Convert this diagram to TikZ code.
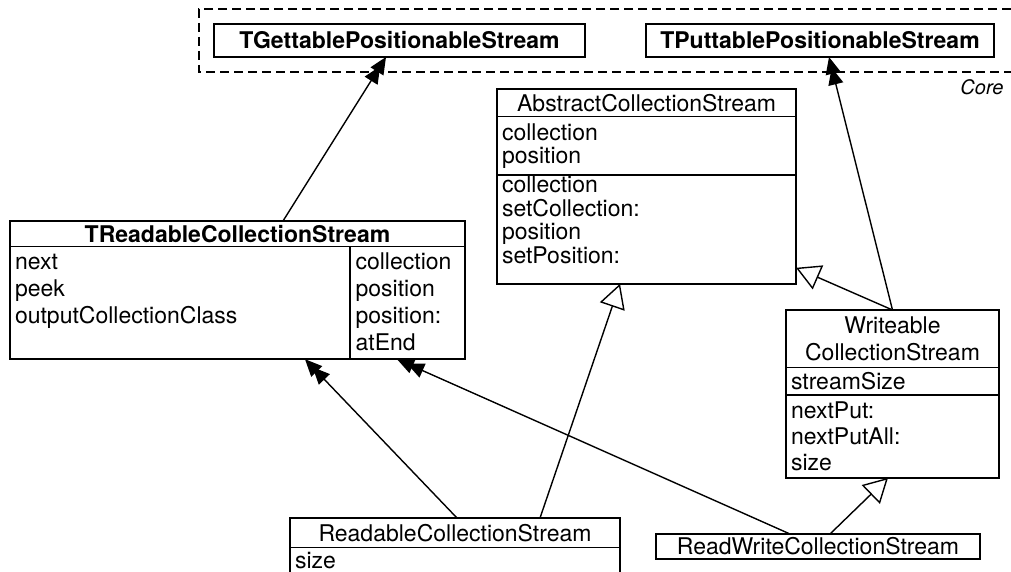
\documentclass[tikz,border=0pt]{standalone}
\usepackage{fontspec}
\setmainfont{TeX Gyre Heros}
\usepackage{tikz}
\usetikzlibrary{shapes.multipart,arrows.meta,positioning}

% one compartment of a class: [inner pos]{height}{width}{rows}
\newcommand{\rowsbox}[4][c]{\parbox[c][#2][#1]{#3}{\raggedright #4}}
% class name row: {height}{width}{name}
\newcommand{\headbox}[3]{\parbox[c][#1][c]{#2}{\centering #3}}

\begin{document}
\begin{tikzpicture}[
    x=1pt, y=1pt,
    umlfont/.style={font=\fontsize{23}{23.5}\selectfont},
    classbox/.style={rectangle split, draw, line width=1.6pt, inner xsep=5pt, inner ysep=0pt, outer sep=0pt, anchor=north west, umlfont},
    plainbox/.style={rectangle, draw, line width=1.6pt, inner sep=0pt, outer sep=0pt, anchor=north west, umlfont},
    uses/.style={-{Triangle[length=17pt,width=15pt,sep=-6pt]Triangle[length=17pt,width=15pt]}, line width=1.4pt},
    inherits/.style={-{Triangle[open,fill=white,length=24pt,width=26pt]}, line width=1.4pt}
]
\useasboundingbox (0,0) rectangle (1011,-572);

% Core package
\draw[line width=1.4pt, dash pattern=on 9pt off 5pt] (1011,-9) -- (199,-9) -- (199,-72) -- (1011,-72);
\node[anchor=east, font=\fontsize{20}{22}\selectfont\itshape] (core) at (1007,-87) {Core};
\node[plainbox, minimum width=371pt, minimum height=33pt] (tget) at (214,-24) {\textbf{TGettablePositionableStream}};
\node[plainbox, minimum width=348pt, minimum height=33pt] (tput) at (646,-24) {\textbf{TPuttablePositionableStream}};

% Classes
\node[classbox, rectangle split parts=3] (abs) at (497,-89) {%
  \headbox{26pt}{289pt}{AbstractCollectionStream}%
  \nodepart{two}\rowsbox{57pt}{289pt}{collection\\position}%
  \nodepart{three}\rowsbox[t]{107pt}{289pt}{collection\\setCollection:\\position\\setPosition:}%
};
\node[classbox, rectangle split parts=2] (trc) at (10,-221) {%
  \headbox{24pt}{445pt}{\textbf{TReadableCollectionStream}}%
  \nodepart{two}\rowsbox[t]{111pt}{334pt}{\rule{0pt}{22pt}next\\[3.5pt]peek\\[3.5pt]outputCollectionClass}%
  \vrule width 1.6pt\hspace{5pt}%
  \rowsbox[t]{111pt}{104.4pt}{\rule{0pt}{22pt}collection\\[3.5pt]position\\[3.5pt]position:\\[3.5pt]atEnd}%
};
\node[classbox, rectangle split parts=3] (wcs) at (786,-310) {%
  \headbox{56pt}{203pt}{Writeable\\[3.5pt]CollectionStream}%
  \nodepart{two}\rowsbox{26pt}{203pt}{streamSize}%
  \nodepart{three}\rowsbox{81pt}{203pt}{nextPut:\\[2.5pt]nextPutAll:\\[2.5pt]size}%
};
\node[classbox, rectangle split parts=2] (rcs) at (290,-518) {%
  \headbox{28pt}{320pt}{ReadableCollectionStream}%
  \nodepart{two}\rowsbox[t]{40pt}{320pt}{\rule{0pt}{20pt}size}%
};
\node[plainbox, minimum width=324pt, minimum height=25pt] (rwc) at (656,-534) {ReadWriteCollectionStream};

% Arrows
\draw[uses] ([xshift=45.5pt]trc.north) -- ([xshift=-13.5pt]tget.south);
\draw[uses] (wcs.north) -- ([xshift=9pt]tput.south);
\draw[inherits] (wcs.north) -- ([yshift=16pt]abs.south east);
\draw[uses] ([xshift=2pt]rcs.north) -- ([xshift=67.5pt]trc.south);
\draw[inherits] ([xshift=85pt]rcs.north) -- ([xshift=-26.5pt]abs.south);
\draw[uses] ([xshift=-28pt]rwc.north) -- ([xshift=159.5pt]trc.south);
\draw[inherits] ([xshift=12pt]rwc.north) -- ([xshift=-4.5pt]wcs.south);
\end{tikzpicture}
\end{document}
